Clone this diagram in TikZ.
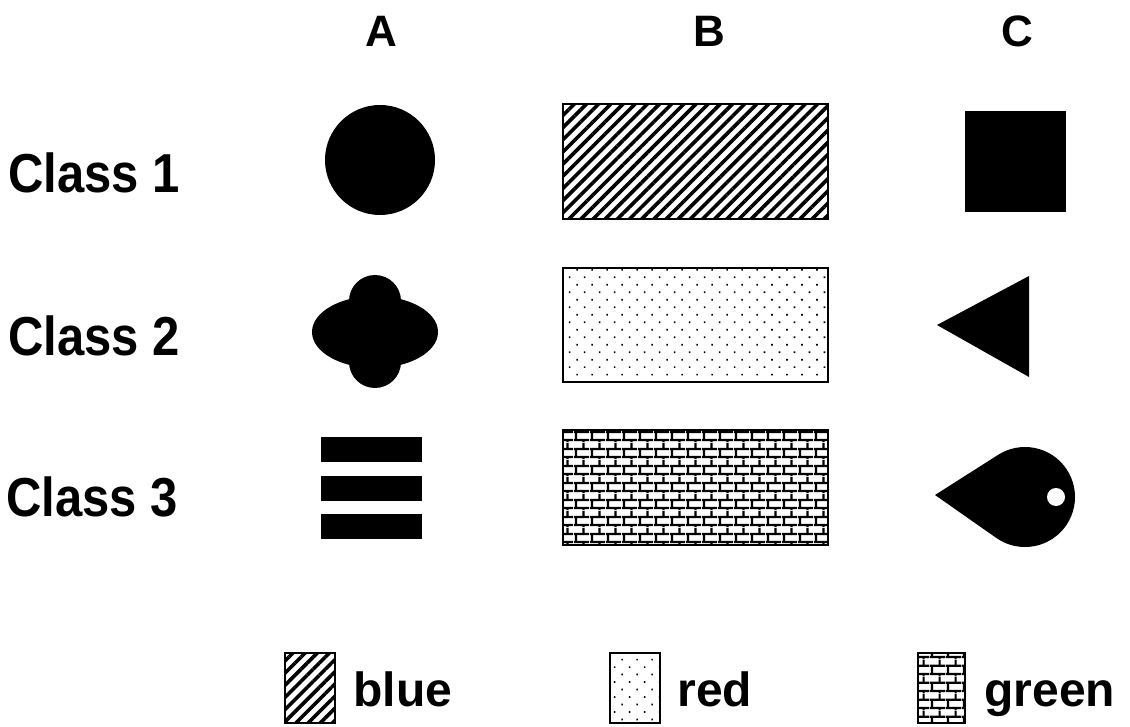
\documentclass[tikz,border=0pt]{standalone}
\usepackage{fontspec}
\setmainfont{Liberation Sans}
\usetikzlibrary{
    patterns.meta,
    calc
}
\tikzdeclarepattern{
  name=brickwall,
  type=uncolored,
  bottom left={(0pt,0pt)},
  top right={(7.75pt,8.3pt)},
  tile size={(7.75pt,8.3pt)},
  code={
    \draw[line width=1.1pt] (0pt,1pt) -- (7.75pt,1pt)
          (0pt,5.15pt) -- (7.75pt,5.15pt);
    \draw[line width=1.1pt] (1pt,1pt) -- (1pt,5.15pt);
    \draw[line width=1.1pt] (4.875pt,5.15pt) -- (4.875pt,8.3pt)
          (4.875pt,0pt) -- (4.875pt,1pt);
  }
}
\tikzset{
  hdr/.style    = {inner sep=0pt, font=\bfseries\fontsize{22}{26}\selectfont},
  cls/.style    = {inner sep=0pt, anchor=base west, yscale=1.12, transform shape,
                   font=\bfseries\fontsize{24.5}{28}\selectfont},
  lgd/.style    = {inner sep=0pt, anchor=base west,
                   font=\bfseries\fontsize{24}{28}\selectfont},
  swatch/.style = {draw, line width=1.1pt}
}

\begin{document}
\begin{tikzpicture}[
        x=0.5pt, y=-0.5pt,
        hatch/.style={swatch, pattern={Lines[angle=45, distance=4.3pt, line width=1.8pt]}},
        dotty/.style={swatch, pattern={Dots[angle=45, distance=5.3pt, radius=0.55pt]}},
        brick/.style={swatch, pattern=brickwall}
      ]
      \useasboundingbox (0,0) rectangle (1130,727);
      % column heads
      \node[hdr, anchor=base] (hdA) at (381,47) {A};
      \node[hdr, anchor=base] (hdB) at (709,47) {B};
      \node[hdr, anchor=base] (hdC) at (1017,47) {C};
      % row labels
      \node[cls] (cls1) at (8,193) {Class 1};
      \node[cls] (cls2) at (8,356) {Class 2};
      \node[cls] (cls3) at (6,516) {Class 3};
      % column A
      \fill (380,160) circle[radius=55];
      \fill (375,332) ellipse[x radius=63, y radius=36];
      \fill (375,301) circle[radius=26];
      \fill (375,362) circle[radius=26];
      \foreach \top in {437,476,514}
        \fill (321,\top) rectangle (422,\top+25);
      % column B
      \draw[hatch] (563,104) rectangle (828,219);
      \draw[dotty] (563,268) rectangle (828,382);
      \draw[brick] (563,430) rectangle (828,545);
      % column C
      \fill (965,111) rectangle (1066,212);
      \fill (937,325) -- (1029,276) -- (1029,377) -- cycle;
      \fill (935,495) -- ($(1025,497)+(-123.7:50)$)
            arc[start angle=-123.7, end angle=123.7, radius=50] -- cycle;
      \fill[white] (1056,497) circle[radius=9];
      % legend
      \draw[hatch] (285,653) rectangle (335,723);
      \node[lgd] (lgblue) at (353,706) {blue};
      \draw[dotty] (610,653) rectangle (660,723);
      \node[lgd] (lgred) at (677,706) {red};
      \draw[brick] (918,653) rectangle (965,723);
      \node[lgd] (lggreen) at (984,706) {green};
    \end{tikzpicture}
\end{document}
